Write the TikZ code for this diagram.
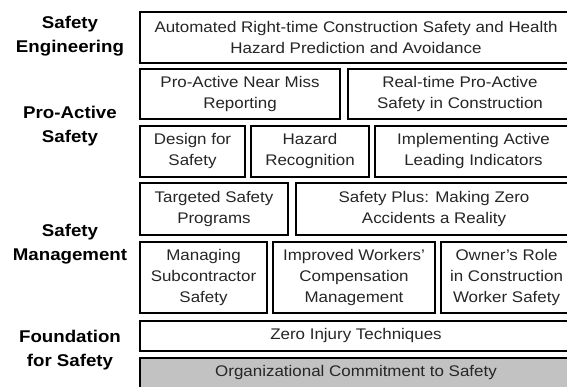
\documentclass[tikz,border=0pt]{standalone}
\usepackage{fontspec}
\setmainfont{Liberation Sans}[FakeStretch=1.1]
\usetikzlibrary{positioning}

\definecolor{basegray}{RGB}{194,194,194}

\begin{document}
\begin{tikzpicture}[
        x=1pt, y=-1pt,
        tier/.style={draw, line width=2pt, outer sep=0pt, inner sep=0pt, fill=white,
                     align=center, text=black!85, font=\fontsize{15.4}{21.3}\selectfont},
        layer/.style={align=center, font=\fontsize{17}{24}\selectfont\bfseries}
    ]
        \useasboundingbox[fill=white] (0,0) rectangle (567,386);
        \clip (0,0) rectangle (567,386);

        % top tier
        \node[tier, minimum width=432, minimum height=51, anchor=north west] (auto) at (140,12)
            {Automated Right-time Construction Safety and Health\\Hazard Prediction and Avoidance};

        % pro-active tiers
        \node[tier, minimum width=200, minimum height=50, below=6pt of auto.south west, anchor=north west] (miss)
            {Pro-Active Near Miss\\Reporting};
        \node[tier, minimum width=224, minimum height=50, right=8pt of miss] (realtime)
            {Real-time Pro-Active\\Safety in Construction};

        \node[tier, minimum width=105, minimum height=50.5, below=7pt of miss.south west, anchor=north west] (design)
            {Design for\\Safety};
        \node[tier, minimum width=118, minimum height=50.5, right=6pt of design] (hazard)
            {Hazard\\Recognition};
        \node[tier, minimum width=197, minimum height=50.5, right=6pt of hazard] (leading)
            {Implementing Active\\Leading Indicators};

        % management tiers
        \node[tier, minimum width=148, minimum height=51.5, below=6.5pt of design.south west, anchor=north west] (targeted)
            {Targeted Safety\\Programs};
        \node[tier, minimum width=276, minimum height=51.5, right=8pt of targeted] (plus)
            {Safety Plus: Making Zero\\Accidents a Reality};

        \node[tier, minimum width=127, minimum height=71, below=7.5pt of targeted.south west, anchor=north west] (subcon)
            {Managing\\Subcontractor\\Safety};
        \node[tier, minimum width=162, minimum height=71, right=6pt of subcon] (workers)
            {Improved Workers'\\Compensation\\Management};
        \node[tier, minimum width=131, minimum height=71, right=6pt of workers] (owner)
            {Owner's Role\\in Construction\\Worker Safety};

        % foundation
        \node[tier, minimum width=432, minimum height=30, below=8pt of subcon.south west, anchor=north west] (zero)
            {Zero Injury Techniques};
        \node[tier, fill=basegray, minimum width=432, minimum height=30, below=7pt of zero.south west, anchor=north west] (commit)
            {Organizational Commitment to Safety};

        % layer names on the left
        \node[layer] (lbleng)  at (70,36)  {Safety\\Engineering};
        \node[layer] (lblpro)  at (70,126) {Pro-Active\\Safety};
        \node[layer] (lblmgmt) at (70,244) {Safety\\Management};
        \node[layer] (lblfound) at (70,350) {Foundation\\for Safety};
    \end{tikzpicture}
\end{document}
